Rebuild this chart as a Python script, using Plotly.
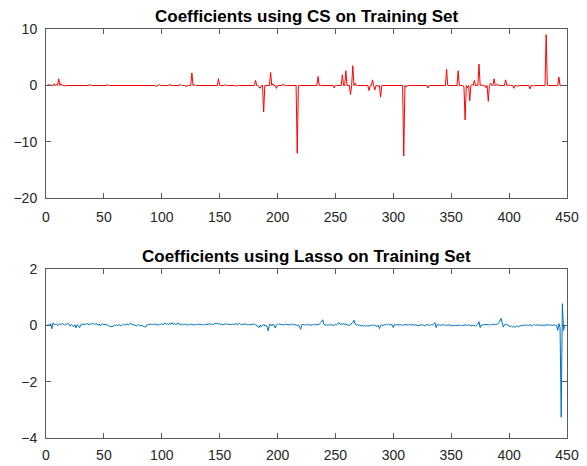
import plotly.graph_objects as go

# ---------------- data ----------------
N_CS = 450
cs_index = [2, 4, 7, 9, 11, 13, 16, 38, 53, 69, 95, 98, 107, 116, 121, 126, 128,
            149, 155, 160, 164, 181, 184, 185, 188, 194, 196, 199, 205, 217,
            235, 249, 256, 259, 263, 265, 267, 279, 282, 284, 287, 289, 309, 311,
            330, 346, 356, 361, 362, 364, 366, 368, 370, 374, 376, 380, 382, 384,
            387, 390, 394, 397, 400, 404, 407, 411, 418, 421, 432, 443]
cs_value = [0.2, 0.1, 0.3, 0.2, 1.2, 0.3, -0.1, 0.2, 0.2, -0.1, -0.2, 0.2, 0.2, 0.2, -0.2, 2.2, 0.2,
            1.2, 0.2, 0.1, -0.1, 0.9, -0.3, -0.5, -4.7, 2.3, 0.3, -0.5, 0.3, -12.0,
            1.6, -0.45, 1.9, 2.6, -1.6, 3.5, 0.4, -0.9, 1.0, -0.8, -0.2, -2.05, -12.5, -0.3,
            -0.45, 2.9, 2.6, -0.3, -6.1, -0.4, -2.7, 0.2, 0.9, 3.8, 0.1, -0.4, -2.8, 0.4,
            1.2, 0.3, 0.1, 1.0, 0.1, -0.5, -0.2, -0.1, -0.6, -0.1, 9.0, 1.5]

lasso_value = [
    0.0, 0.03, -0.02, 0.06, -0.12, 0.08, 0.04, 0.02, 0.05, -0.01, 0.03, 0.06, 0.02, 0.07, 0.04, 0.01, 0.05, 0.03, 0.08, 0.02,
    -0.03, 0.04, 0.01, -0.05, 0.02, -0.09, 0.03, -0.04, -0.08, 0.02, 0.05, 0.01, 0.06, 0.03, 0.04, 0.07, 0.02, 0.06, 0.03, 0.08,
    0.05, 0.02, 0.07, 0.04, 0.01, 0.05, -0.02, 0.03, 0.06, 0.02, 0.04, 0.01, 0.03, -0.02, -0.04, -0.03, -0.06, -0.02, 0.01, -0.01,
    0.02, -0.01, 0.03, 0.01, -0.02, 0.02, 0.04, 0.01, 0.03, 0.05, 0.02, 0.04, 0.09, 0.02, 0.03, 0.0, 0.02, -0.03, 0.01, 0.02,
    0.0, -0.02, 0.01, -0.04, -0.03, -0.07, 0.01, 0.03, 0.02, 0.05, 0.03, 0.04, 0.02, 0.05, 0.03, 0.01, 0.04, 0.02, 0.03, 0.06,
    0.02, 0.05, 0.09, 0.03, 0.06, 0.02, 0.08, 0.04, 0.1, 0.03, 0.07, 0.02, 0.05, 0.09, 0.03, 0.06, 0.01, 0.04, 0.02, 0.05,
    0.03, 0.01, 0.04, 0.02, 0.03, 0.05, 0.02, 0.01, 0.03, 0.04, 0.02, 0.05, 0.03, 0.02, 0.04, 0.01, 0.03, 0.05, 0.02, 0.04,
    0.06, 0.03, 0.05, 0.02, 0.04, 0.07, 0.05, 0.09, 0.04, 0.06, 0.03, 0.05, 0.02, 0.04, 0.06, 0.03, 0.05, 0.02, 0.04, 0.03,
    0.05, 0.02, 0.04, 0.06, 0.03, 0.05, 0.07, 0.04, 0.02, 0.05, 0.03, 0.06, 0.04, 0.02, 0.03, 0.01, 0.04, 0.02, 0.03, 0.05,
    0.02, 0.0, -0.03, -0.08, 0.01, -0.05, 0.02, 0.04, -0.02, 0.01, -0.06, -0.2, 0.03, 0.05, -0.02, 0.04, 0.01, -0.09, 0.02, 0.05,
    0.03, 0.06, 0.02, 0.04, 0.01, 0.03, 0.05, 0.02, 0.04, 0.03, 0.01, 0.05, 0.02, 0.04, 0.01, 0.03, -0.02, 0.02, -0.1, -0.14,
    0.02, 0.04, 0.01, 0.03, 0.02, 0.04, 0.01, 0.02, 0.0, 0.03, 0.01, 0.04, 0.02, 0.03, 0.05, 0.04, 0.08, 0.12, 0.2, 0.04,
    0.01, 0.03, 0.0, 0.02, 0.01, 0.03, 0.02, 0.0, 0.01, 0.04, 0.02, 0.05, 0.1, 0.03, 0.06, 0.02, 0.08, 0.03, 0.05, 0.01,
    0.02, 0.0, 0.03, 0.06, 0.1, 0.18, 0.05, 0.02, 0.03, 0.0, 0.01, -0.02, 0.0, -0.03, -0.01, -0.02, 0.0, -0.03, -0.01, -0.02,
    0.01, -0.01, 0.02, 0.0, -0.02, -0.04, 0.01, -0.12, 0.0, 0.02, -0.01, 0.03, 0.01, 0.04, 0.02, 0.05, 0.01, 0.03, 0.02, -0.08,
    0.04, 0.01, 0.03, 0.02, 0.01, 0.03, 0.0, 0.02, 0.01, 0.03, 0.02, 0.0, 0.01, 0.03, 0.02, 0.01, 0.03, 0.0, 0.02, 0.01,
    0.02, -0.01, 0.01, 0.03, 0.0, 0.02, -0.02, 0.01, 0.03, 0.02, 0.0, 0.01, 0.03, 0.02, 0.05, 0.1, -0.08, 0.03, 0.01, 0.02,
    0.0, 0.02, 0.01, 0.03, 0.0, -0.01, 0.01, 0.02, 0.0, 0.01, -0.02, 0.0, 0.01, -0.01, 0.0, 0.02, 0.01, 0.0, -0.01, 0.01,
    0.0, 0.02, 0.01, 0.0, 0.02, 0.01, 0.0, -0.02, 0.01, 0.0, -0.03, 0.01, 0.04, 0.13, -0.08, 0.02, 0.01, 0.03, 0.02, 0.04,
    0.02, 0.03, 0.01, 0.04, 0.02, 0.03, 0.05, 0.02, 0.04, 0.03, 0.08, 0.15, 0.25, 0.06, -0.06, 0.03, 0.02, 0.04, 0.01, -0.03,
    -0.05, -0.02, -0.06, -0.03, -0.07, -0.04, -0.02, -0.05, -0.03, 0.0, -0.02, 0.01, 0.0, 0.02, -0.01, 0.01, 0.0, 0.02, 0.01, -0.02,
    0.01, 0.03, 0.0, 0.02, 0.01, 0.0, 0.02, 0.01, -0.01, 0.01, 0.0, 0.02, 0.01, 0.0, 0.01, 0.02, 0.0, 0.01, 0.02, 0.0,
    0.0, -0.18, 0.06, -0.08, -3.26, 0.77, -0.18, 0.0,
]

x_ticks = [0, 50, 100, 150, 200, 250, 300, 350, 400, 450]
cs_y_ticks = [-20, -10, 0, 10]
lasso_y_ticks = [-4, -2, 0, 2]
titles = ["Coefficients using CS on Training Set", "Coefficients using Lasso on Training Set"]

# build CS series (zero everywhere except the read spikes)
cs_series = [0.0] * N_CS
for i, v in zip(cs_index, cs_value):
    cs_series[i - 1] = v
cs_x = list(range(1, N_CS + 1))
lasso_x = list(range(1, len(lasso_value) + 1))

# ---------------- figure ----------------
FONT = "Liberation Sans, Arial, Helvetica, sans-serif"
AX = "#262626"

fig = go.Figure()
fig.add_trace(go.Scatter(x=cs_x, y=cs_series, mode="lines",
                         line=dict(color="#FF0000", width=1), xaxis="x", yaxis="y",
                         showlegend=False, hoverinfo="skip"))
fig.add_trace(go.Scatter(x=lasso_x, y=lasso_value, mode="lines",
                         line=dict(color="#0072BD", width=1), xaxis="x2", yaxis="y2",
                         showlegend=False, hoverinfo="skip"))

common_axis = dict(showline=True, linecolor="#5a5a5a", linewidth=1, mirror="ticks",
                   ticks="inside", ticklen=5, tickcolor="#5a5a5a", tickwidth=1,
                   showgrid=False, zeroline=False, automargin=False,
                   tickfont=dict(family=FONT, size=14, color=AX))

TOP_DOM = [0.5856, 1.0]
BOT_DOM = [0.0, 0.413]

fig.update_layout(
    width=587, height=466,
    margin=dict(l=46, r=20, t=29, b=28),
    paper_bgcolor="white", plot_bgcolor="white",
    xaxis=dict(common_axis, domain=[0, 1], range=[0, 450], tickvals=x_ticks,
               anchor="y", ticklabelstandoff=6),
    yaxis=dict(common_axis, domain=TOP_DOM, range=[-20, 10], tickvals=cs_y_ticks,
               anchor="x", ticklabelstandoff=5),
    xaxis2=dict(common_axis, domain=[0, 1], range=[0, 450], tickvals=x_ticks,
                anchor="y2", ticklabelstandoff=4),
    yaxis2=dict(common_axis, domain=BOT_DOM, range=[-4, 2], tickvals=lasso_y_ticks,
                anchor="x2", ticklabelstandoff=5),
    annotations=[
        dict(text="<b>%s</b>" % titles[0], x=0.5, xref="paper", y=TOP_DOM[1], yref="paper",
             xanchor="center", yanchor="bottom", yshift=1, showarrow=False,
             font=dict(family=FONT, size=17, color="black")),
        dict(text="<b>%s</b>" % titles[1], x=0.5, xref="paper", y=BOT_DOM[1], yref="paper",
             xanchor="center", yanchor="bottom", yshift=1, showarrow=False,
             font=dict(family=FONT, size=17, color="black")),
    ],
)

fig.write_html("out.html")
